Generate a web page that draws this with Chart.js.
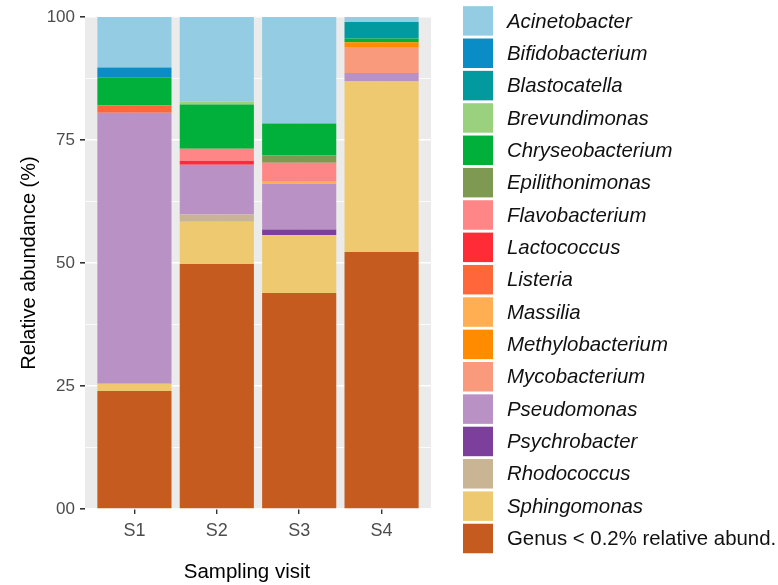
<!DOCTYPE html>
<html>
<head>
<meta charset="utf-8">
<script src="https://cdn.jsdelivr.net/npm/chart.js@4"></script>
<style>
  html, body { margin: 0; padding: 0; background: #fff; }
  #wrap { width: 778px; height: 585px; }
</style>
</head>
<body>
<div id="wrap"><canvas id="abundanceChart" width="778" height="585"></canvas></div>
<script>
const sites = ['S1', 'S2', 'S3', 'S4'];

// relative abundance (%) per genus, one value per sampling visit
const acinetobacter    = [10.25, 17.15, 21.65, 1.0];
const bifidobacterium  = [2.0, 0, 0, 0];
const blastocatella    = [0, 0, 0, 3.35];
const brevundimonas    = [0, 0.65, 0, 0];
const chryseobacterium = [5.7, 9.0, 6.5, 0.8];
const epilithonimonas  = [0, 0, 1.45, 0];
const flavobacterium   = [0, 2.45, 3.75, 0];
const lactococcus      = [0, 0.8, 0, 0];
const listeria         = [1.5, 0, 0, 0];
const massilia         = [0, 0, 0.55, 0];
const methylobacterium = [0, 0, 0, 0.95];
const mycobacterium    = [0, 0, 0, 5.3];
const pseudomonas      = [55.1, 10.1, 9.3, 1.7];
const psychrobacter    = [0, 0, 1.1, 0];
const rhodococcus      = [0, 1.45, 0, 0];
const sphingomonas     = [1.45, 8.6, 11.8, 34.65];
const lowAbundance     = [24.0, 49.8, 43.9, 52.25];

const genusNames = ['Acinetobacter', 'Bifidobacterium', 'Blastocatella', 'Brevundimonas',
  'Chryseobacterium', 'Epilithonimonas', 'Flavobacterium', 'Lactococcus', 'Listeria',
  'Massilia', 'Methylobacterium', 'Mycobacterium', 'Pseudomonas', 'Psychrobacter',
  'Rhodococcus', 'Sphingomonas', 'Genus < 0.2% relative abund.'];
const genusValues = [acinetobacter, bifidobacterium, blastocatella, brevundimonas,
  chryseobacterium, epilithonimonas, flavobacterium, lactococcus, listeria,
  massilia, methylobacterium, mycobacterium, pseudomonas, psychrobacter,
  rhodococcus, sphingomonas, lowAbundance];
const genusColours = ['#94CDE3', '#0A8CC6', '#029A9E', '#99D17F', '#00B03A', '#7E9A52',
  '#FF8686', '#FF2B36', '#FF673B', '#FFAF52', '#FF8C00', '#F89A7B', '#B991C5',
  '#7C3F9C', '#C9B594', '#EFC970', '#C55B1E'];

const yTicks = [0, 25, 50, 75, 100];
const yTickLabels = ['00', '25', '50', '75', '100'];

const FONT = '"Liberation Sans", Arial, sans-serif';

// ggplot stacks the first level on top, chart.js stacks the first dataset at the bottom
const datasets = genusNames.map((name, i) => ({
  label: name,
  data: genusValues[i].map((v, j) => ({ x: j + 1, y: v })),
  backgroundColor: genusColours[i],
  borderWidth: 0,
  barPercentage: 0.9,
  categoryPercentage: 1.0
})).reverse();

const panelBg = {
  id: 'panelBg',
  beforeDraw(chart) {
    const { ctx, chartArea: a } = chart;
    ctx.save();
    ctx.fillStyle = '#EBEBEB';
    ctx.fillRect(a.left, a.top, a.right - a.left, a.bottom - a.top);
    ctx.restore();
  }
};

// legend on the right plus the x title, which sits a bit left of the panel centre
const sideLegend = {
  id: 'sideLegend',
  afterDraw(chart) {
    const ctx = chart.ctx;
    const keyX = 463, keyW = 30, keyH = 29.5, firstY = 20.9, step = 32.35, textX = 507;
    ctx.save();
    genusNames.forEach((name, i) => {
      const cy = firstY + i * step;
      ctx.fillStyle = genusColours[i];
      ctx.fillRect(keyX, cy - keyH / 2, keyW, keyH);
      ctx.fillStyle = '#111';
      ctx.font = (i < genusNames.length - 1 ? 'italic ' : '') + '20.4px ' + FONT;
      ctx.textAlign = 'left';
      ctx.textBaseline = 'middle';
      ctx.fillText(name, textX, cy + 1);
    });
    ctx.fillStyle = '#000';
    ctx.font = '20.5px ' + FONT;
    ctx.textAlign = 'center';
    ctx.fillText('Sampling visit', 247, 572);
    ctx.restore();
  }
};

new Chart(document.getElementById('abundanceChart').getContext('2d'), {
  type: 'bar',
  data: { datasets: datasets },
  plugins: [panelBg, sideLegend],
  options: {
    responsive: false,
    animation: false,
    layout: { padding: { top: 17, right: 347, left: 0, bottom: 0 } },
    plugins: { legend: { display: false }, tooltip: { enabled: false } },
    scales: {
      x: {
        type: 'linear',
        stacked: true,
        min: 0.4,
        max: 4.6,
        offset: false,
        afterBuildTicks: (scale) => { scale.ticks = sites.map((_, i) => ({ value: i + 1 })); },
        afterFit: (scale) => { scale.height = 76; },
        ticks: {
          callback: (v) => sites[v - 1],
          color: '#4D4D4D',
          font: { family: FONT, size: 18 },
          padding: 6,
          maxRotation: 0
        },
        grid: { offset: false, color: '#FFFFFF', lineWidth: 1.4, tickColor: '#333333', tickLength: 5 },
        border: { display: false },
        title: { display: false }
      },
      y: {
        stacked: true,
        min: 0,
        max: 100,
        afterBuildTicks: (scale) => {
          scale.ticks = [0, 12.5, 25, 37.5, 50, 62.5, 75, 87.5, 100].map(v => ({ value: v }));
        },
        afterFit: (scale) => { scale.width = 85; },
        ticks: {
          callback: (v) => {
            const k = yTicks.indexOf(v);
            return k >= 0 ? yTickLabels[k] : '';
          },
          color: '#4D4D4D',
          font: { family: FONT, size: 17 },
          padding: 5
        },
        grid: {
          color: '#FFFFFF',
          lineWidth: (c) => (c.tick && c.tick.value % 25 === 0 ? 1.6 : 0.8),
          tickColor: (c) => (c.tick && c.tick.value % 25 === 0 ? '#333333' : 'rgba(0,0,0,0)'),
          tickLength: 5
        },
        border: { display: false },
        title: {
          display: true,
          text: 'Relative abundance (%)',
          color: '#000',
          font: { family: FONT, size: 20 },
          padding: { top: 17, bottom: 0 }
        }
      }
    }
  }
});
</script>
</body>
</html>
